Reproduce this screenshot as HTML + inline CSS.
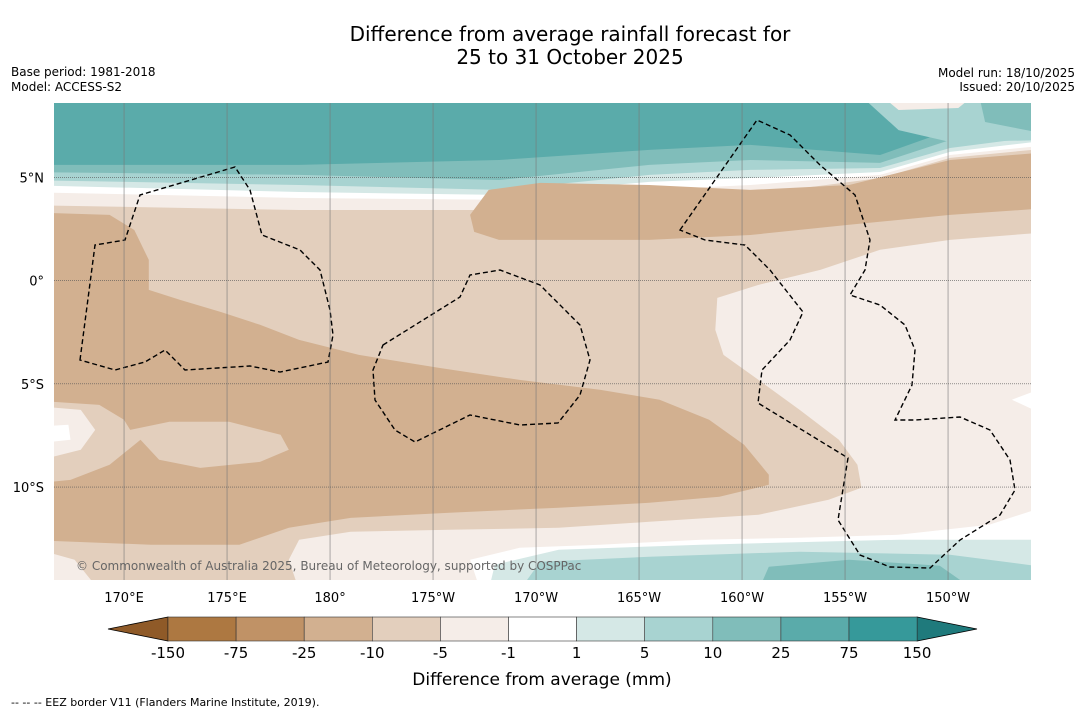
<!DOCTYPE html>
<html><head><meta charset="utf-8"><style>
body{margin:0;background:#fff;font-family:"Liberation Sans","DejaVu Sans",sans-serif;}
svg text{font-family:"DejaVu Sans","Liberation Sans",sans-serif;}
</style></head><body>
<svg id="chart" width="1085" height="713" xmlns="http://www.w3.org/2000/svg">
<text x="570" y="41" font-size="20" text-anchor="middle">Difference from average rainfall forecast for</text>
<text x="570" y="64" font-size="20" text-anchor="middle">25 to 31 October 2025</text>
<text x="11" y="76" font-size="12">Base period: 1981-2018</text>
<text x="11" y="91" font-size="12">Model: ACCESS-S2</text>
<text x="1075" y="77" font-size="12" text-anchor="end">Model run: 18/10/2025</text>
<text x="1075" y="91" font-size="12" text-anchor="end">Issued: 20/10/2025</text>
<defs><clipPath id="mapclip"><rect x="54" y="103" width="977" height="477"/></clipPath></defs>
<g id="map" clip-path="url(#mapclip)">
<rect x="54" y="103" width="977" height="477" fill="#e3cfbd"/>
<g id="fills"></g>
<path fill="none" stroke="#000" stroke-width="1.4" stroke-dasharray="5,3" d="M80,360 L95,245 L125,240 L140,195 L235,167 L250,190 L262,235 L300,250 L320,270 L330,310 L333,335 L328,362 L280,372 L250,366 L185,370 L165,350 L145,362 L115,370 Z M383,345 L460,297 L470,275 L500,270 L540,285 L580,325 L590,360 L580,395 L558,423 L520,425 L470,415 L415,442 L395,430 L375,400 L373,370 Z M680,230 L757,120 L790,135 L820,165 L855,195 L870,240 L865,270 L850,295 L880,305 L905,325 L915,350 L912,385 L895,420 L915,420 L960,417 L990,430 L1010,460 L1015,490 L1000,515 L960,540 L930,568 L890,567 L860,555 L838,520 L848,458 L758,403 L762,370 L790,340 L803,312 L770,270 L745,245 L705,240 Z"/>
<g id="grid"></g>
<text x="76" y="570" font-size="12" fill="#666">© Commonwealth of Australia 2025, Bureau of Meteorology, supported by COSPPac</text>
</g>
<g id="xticks"></g><g id="yticks"></g>
<g id="colorbar"></g>
<text x="542" y="685" font-size="17" text-anchor="middle">Difference from average (mm)</text>
<text x="11" y="706" font-size="11">--  --  -- EEZ border V11 (Flanders Marine Institute, 2019).</text>
</svg>
<script>
const lonTicks=[170,175,180,185,190,195,200,205,210];
const lonLabels=["170°E","175°E","180°","175°W","170°W","165°W","160°W","155°W","150°W"];
const latTicks=[5,0,-5,-10];
const latLabels=["5°N","0°","5°S","10°S"];
const cbLevels=["-150","-75","-25","-10","-5","-1","1","5","10","25","75","150"];
const cbColors=["#ad7841","#c09266","#d2b090","#e3cfbd","#f5ede8","#ffffff","#d5e8e6","#a8d3d1","#80bdba","#5aabaa","#36999a"];
const cbLow="#8f5a28", cbHigh="#1f7a7c";
const bandLons=[165,178.5,188.2,195.5,200.4,206.7,210.1,215];
const band5=[3.66,3.42,3.42,3.91,4.15,4.97,5.94,6.42];
const band4=[4.29,4.0,3.91,4.39,4.63,5.12,6.08,6.57];
const band3=[4.63,4.29,4.15,4.78,4.97,5.26,6.23,6.81];
const band2=[4.87,4.63,4.39,5.12,5.36,5.45,6.42,7.05];
const band1=[5.26,5.12,4.87,5.6,5.84,5.7,6.81,7.54];
const band0=[5.6,5.6,5.84,6.33,6.57,6.08,7.29,8.6];
const polyRightLight=[[215,2.36],[210.1,1.97],[206.7,1.49],[203.8,0.52],[200.8,-0.21],[198.8,-0.84],[198.7,-2.39],[199.1,-3.6],[200.8,-4.81],[202.8,-6.26],[204.7,-7.71],[205.6,-8.92],[205.8,-10.03],[204.2,-10.61],[200.8,-11.34],[195.5,-11.68],[191.1,-11.97],[185.8,-12.07],[181,-12.16],[178.5,-12.55],[178,-13.52],[178.5,-15],[215,-15]];
const polyBigTan=[[165,3.32],[169.3,3.18],[170.5,2.45],[171.2,1.0],[171.2,-0.45],[172.7,-0.93],[174.7,-1.52],[176.6,-2.14],[178.5,-2.87],[181.4,-3.6],[185.3,-4.23],[189.2,-4.81],[193.1,-5.29],[196,-5.77],[198.4,-6.74],[200.1,-7.95],[201.3,-9.4],[201.3,-9.89],[198.9,-10.47],[195.5,-10.76],[191.1,-11.0],[185.8,-11.24],[181,-11.49],[178,-11.97],[175.6,-12.79],[171.3,-12.79],[165,-12.55]];
const polyRightTan=[[186.8,3.18],[187.7,4.39],[190.2,4.73],[195.5,4.63],[200.4,4.39],[205.2,4.63],[210.1,5.84],[215,6.23],[215,3.52],[210.1,3.18],[205.2,2.7],[200.4,2.21],[195.5,1.97],[188.2,1.97],[187,2.36]];
const polyLeftLobe=[[165,-5.77],[168.8,-6.02],[170,-6.74],[170.3,-7.23],[172.2,-6.84],[175.1,-6.84],[177.6,-7.47],[178,-8.19],[176.6,-8.78],[173.7,-9.07],[171.7,-8.68],[170.8,-7.71],[169.3,-8.92],[167.4,-9.65],[165,-9.89]];
const polyLeftLight=[[165,-6.02],[167.9,-6.26],[168.6,-7.23],[167.9,-8.19],[165,-8.92]];
const polyLeftWhite=[[165,-7.13],[167.3,-6.98],[167.4,-7.71],[165,-7.95]];
const polyBotWhite=[[215,-10.85],[212,-11.82],[207.6,-12.31],[202.8,-12.45],[198,-12.55],[193.1,-12.79],[189.2,-12.94],[186.8,-13.52],[187.3,-15],[215,-15]];
const polyBotT1=[[187.7,-15],[188,-13.76],[191.1,-13.03],[198,-12.79],[207.6,-12.55],[215,-12.55],[215,-15]];
const polyBotT2=[[189.2,-15],[190.2,-13.62],[195.5,-13.37],[202.8,-13.13],[210.1,-13.28],[215,-13.91],[215,-15]];
const polyBotT3=[[200.8,-15],[201.3,-13.86],[205.2,-13.52],[209.6,-13.81],[211.3,-15]];
const polyRightWhite=[[215,-5.05],[213.1,-5.77],[215,-6.65]];
const polyBotLeftLight=[[165,-12.79],[167.6,-13.52],[168.8,-15],[165,-15]];
const polyCornerA=[[205.7,9],[207.6,7.29],[210.1,6.71],[215,6.81],[215,9]];
const polyCornerB=[[211.5,9],[211.8,7.68],[215,7.05],[215,9]];
const polyCornerC=[[206.7,9],[207.6,8.26],[210.5,8.36],[211.3,9]];

const X=lon=>54+(lon-166.6)*20.6;
const Y=lat=>103+(8.6-lat)*20.65;
const NS="http://www.w3.org/2000/svg";
const fills=document.getElementById('fills');
function poly(pts,color,name){
  const p=document.createElementNS(NS,'polygon');
  p.setAttribute('points',pts.map(q=>X(q[0]).toFixed(1)+','+Y(q[1]).toFixed(1)).join(' '));
  p.setAttribute('fill',color);
  
  
  fills.appendChild(p);
}
function band(lows,color,name){
  const pts=[[165,9]];
  bandLons.forEach((l,i)=>pts.push([l,lows[i]]));
  pts.push([215,9]);
  poly(pts,color,name);
}
poly(polyRightLight,"#f5ede8","light-anomaly-east");
poly(polyBigTan,"#d2b090","dry-anomaly-west");
poly(polyLeftLobe,"#e3cfbd","lobe-west");
poly(polyLeftLight,"#f5ede8","lobe-west-light");
poly(polyLeftWhite,"#ffffff","lobe-west-neutral");
poly(polyBotWhite,"#ffffff","neutral-south");
poly(polyBotT1,"#d5e8e6","wet-south-1");
poly(polyBotT2,"#a8d3d1","wet-south-2");
poly(polyBotT3,"#80bdba","wet-south-3");
poly(polyRightWhite,"#ffffff","neutral-east-patch");
poly(polyBotLeftLight,"#f5ede8","light-southwest");
band(band5,"#f5ede8","band-light-dry");
band(band4,"#ffffff","band-neutral");
band(band3,"#d5e8e6","band-wet-1");
band(band2,"#a8d3d1","band-wet-2");
band(band1,"#80bdba","band-wet-3");
band(band0,"#5aabaa","band-wet-4");
poly(polyRightTan,"#d2b090","dry-anomaly-north-band");
poly(polyCornerA,"#a8d3d1","corner-wet-2");
poly(polyCornerB,"#80bdba","corner-wet-3");
poly(polyCornerC,"#f5ede8","corner-light");

const grid=document.getElementById('grid'), xt=document.getElementById('xticks'), yt=document.getElementById('yticks');
lonTicks.forEach((l,i)=>{
  const ln=document.createElementNS(NS,'line');
  ln.setAttribute('x1',X(l));ln.setAttribute('x2',X(l));ln.setAttribute('y1',103);ln.setAttribute('y2',580);
  ln.setAttribute('stroke','#777');ln.setAttribute('stroke-width','0.6');
  
  
  grid.appendChild(ln);
  const t=document.createElementNS(NS,'text');
  t.setAttribute('x',X(l));t.setAttribute('y',602);t.setAttribute('font-size','13');t.setAttribute('text-anchor','middle');
  t.textContent=lonLabels[i];
  
  
  xt.appendChild(t);
});
latTicks.forEach((l,i)=>{
  const ln=document.createElementNS(NS,'line');
  ln.setAttribute('x1',54);ln.setAttribute('x2',1031);ln.setAttribute('y1',Y(l));ln.setAttribute('y2',Y(l));
  ln.setAttribute('stroke','#555');ln.setAttribute('stroke-width','0.6');ln.setAttribute('stroke-dasharray','1,1');
  
  
  grid.appendChild(ln);
  const t=document.createElementNS(NS,'text');
  t.setAttribute('x',44);t.setAttribute('y',Y(l)+5);t.setAttribute('font-size','13');t.setAttribute('text-anchor','end');
  t.textContent=latLabels[i];
  
  
  yt.appendChild(t);
});
const cb=document.getElementById('colorbar');
const cbX0=168, cbW=68.1, cbY=617, cbH=24;
const tri1=document.createElementNS(NS,'polygon');
tri1.setAttribute('points',`${cbX0},${cbY} 108,${cbY+cbH/2} ${cbX0},${cbY+cbH}`);
tri1.setAttribute('fill',cbLow);tri1.setAttribute('stroke','#000');tri1.setAttribute('stroke-width','0.8');


cb.appendChild(tri1);
const xe=cbX0+cbW*cbColors.length;
const tri2=document.createElementNS(NS,'polygon');
tri2.setAttribute('points',`${xe},${cbY} 977,${cbY+cbH/2} ${xe},${cbY+cbH}`);
tri2.setAttribute('fill',cbHigh);tri2.setAttribute('stroke','#000');tri2.setAttribute('stroke-width','0.8');


cb.appendChild(tri2);
cbColors.forEach((c,i)=>{
  const r=document.createElementNS(NS,'rect');
  r.setAttribute('x',cbX0+i*cbW);r.setAttribute('y',cbY);r.setAttribute('width',cbW);r.setAttribute('height',cbH);
  r.setAttribute('fill',c);r.setAttribute('stroke','#333');r.setAttribute('stroke-width','0.6');
  
  
  cb.appendChild(r);
});
cbLevels.forEach((s,i)=>{
  const t=document.createElementNS(NS,'text');
  t.setAttribute('x',cbX0+i*cbW);t.setAttribute('y',658);t.setAttribute('font-size','15');t.setAttribute('text-anchor','middle');
  t.textContent=s;
  
  
  cb.appendChild(t);
});
</script>
</body></html>
